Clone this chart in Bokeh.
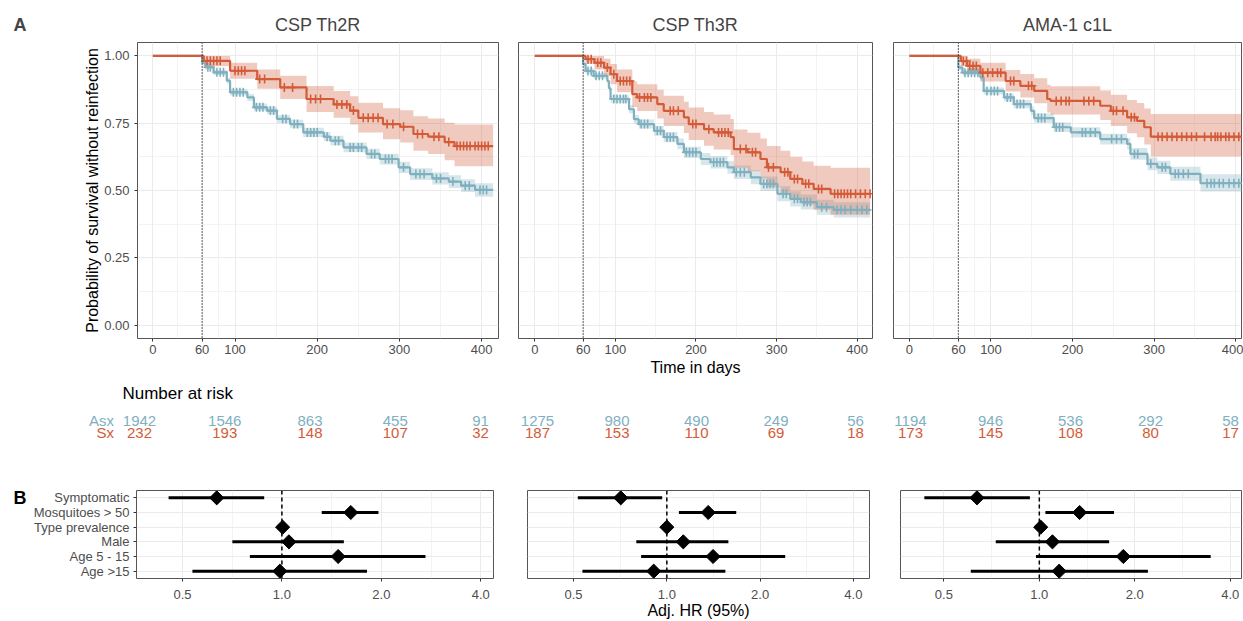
import numpy as np
from bokeh.plotting import figure
from bokeh.models import (Range1d, FactorRange, FixedTicker, PrintfTickFormatter, Span)
from bokeh.layouts import row, column
from bokeh.embed import file_html
from bokeh.resources import INLINE
from bokeh.core.properties import value

FONT = "Liberation Sans"
RED = "#D45B38"
BLUE = "#7FB0BF"
GRID = "#EBEBEB"
TICKCOL = "#4D4D4D"

panel_titles = ["CSP Th2R", "CSP Th3R", "AMA-1 c1L"]
panel_letters = ["A", "B"]
landmark_day = 60
x_ticks = [0, 60, 100, 200, 300, 400]
x_minor = [30, 80, 150, 250, 350]
y_ticks = [0.0, 0.25, 0.5, 0.75, 1.0]
y_minor = [0.125, 0.375, 0.625, 0.875]

# ---- Kaplan-Meier step data (time, survival, lower CI, upper CI), censor times
# Panel 1 : CSP Th2R
p1_sx_t = [0, 62, 94, 127, 155, 187, 220, 240, 250, 280, 301, 317, 335, 355, 367]
p1_sx_s = [1.0, 0.982, 0.945, 0.914, 0.883, 0.84, 0.82, 0.797, 0.77, 0.747, 0.737, 0.71, 0.70, 0.68, 0.665]
p1_sx_lo = [1.0, 0.962, 0.915, 0.878, 0.840, 0.792, 0.770, 0.745, 0.716, 0.690, 0.678, 0.648, 0.636, 0.612, 0.590]
p1_sx_hi = [1.0, 1.0, 0.975, 0.950, 0.926, 0.888, 0.870, 0.850, 0.826, 0.806, 0.798, 0.776, 0.768, 0.752, 0.745]
p1_sx_cens = [66, 70, 74, 78, 82, 100, 104, 108, 112, 130, 136, 160, 170, 192, 198, 204, 224, 230, 236,
              244, 256, 262, 268, 274, 285, 292, 305, 322, 328, 342, 348, 360, 370, 374, 378, 382, 386,
              392, 396, 400, 404, 408]
p1_asx_t = [0, 60, 64, 74, 90, 94, 115, 123, 139, 151, 167, 183, 208, 216, 232, 260, 276, 299, 313, 340, 360, 375, 392]
p1_asx_s = [1.0, 0.975, 0.958, 0.939, 0.908, 0.865, 0.846, 0.809, 0.797, 0.766, 0.747, 0.716, 0.70, 0.685, 0.66,
            0.636, 0.617, 0.586, 0.561, 0.545, 0.533, 0.518, 0.502]
p1_asx_lo = [1.0, 0.968, 0.949, 0.929, 0.897, 0.853, 0.833, 0.795, 0.783, 0.751, 0.731, 0.699, 0.683, 0.667,
             0.642, 0.617, 0.597, 0.565, 0.539, 0.522, 0.509, 0.494, 0.477]
p1_asx_hi = [1.0, 0.982, 0.967, 0.949, 0.919, 0.877, 0.859, 0.823, 0.811, 0.781, 0.763, 0.733, 0.717, 0.703,
             0.678, 0.655, 0.637, 0.607, 0.583, 0.568, 0.557, 0.542, 0.527]
p1_asx_cens = [67, 70, 78, 82, 86, 98, 102, 106, 110, 126, 130, 134, 143, 147, 158, 162, 172, 176, 188, 192,
               196, 200, 212, 222, 226, 240, 244, 250, 254, 266, 270, 283, 287, 291, 305, 320, 325, 330, 345,
               350, 365, 380, 385, 398, 402, 406]
# Panel 2 : CSP Th3R
p2_sx_t = [0, 63, 74, 86, 94, 102, 121, 127, 152, 160, 185, 191, 210, 222, 243, 247, 264, 280, 288, 305, 317, 332, 346, 367]
p2_sx_s = [1.0, 0.988, 0.975, 0.957, 0.932, 0.907, 0.858, 0.846, 0.821, 0.796, 0.772, 0.747, 0.728, 0.716,
           0.698, 0.654, 0.642, 0.617, 0.586, 0.568, 0.543, 0.525, 0.506, 0.488]
p2_sx_lo = [1.0, 0.970, 0.950, 0.925, 0.895, 0.865, 0.810, 0.795, 0.768, 0.740, 0.714, 0.688, 0.666, 0.652,
            0.632, 0.585, 0.572, 0.545, 0.512, 0.492, 0.466, 0.447, 0.428, 0.41]
p2_sx_hi = [1.0, 1.0, 1.0, 0.99, 0.97, 0.950, 0.905, 0.895, 0.874, 0.852, 0.830, 0.808, 0.792, 0.782,
            0.766, 0.727, 0.715, 0.693, 0.665, 0.648, 0.625, 0.608, 0.592, 0.585]
p2_sx_cens = [66, 70, 78, 82, 90, 98, 106, 110, 114, 118, 130, 136, 140, 144, 168, 172, 178, 196, 200, 216,
              228, 232, 236, 240, 255, 262, 270, 274, 290, 296, 310, 314, 322, 326, 336, 340, 352, 356, 372,
              376, 380, 384, 388, 392, 398, 404, 410, 416]
p2_asx_t = [0, 60, 63, 73, 90, 92, 94, 117, 123, 129, 148, 160, 177, 185, 206, 218, 239, 247, 268, 280, 301, 317, 330, 350, 371]
p2_asx_s = [1.0, 0.97, 0.944, 0.926, 0.907, 0.88, 0.84, 0.802, 0.765, 0.747, 0.722, 0.698, 0.673, 0.642,
            0.617, 0.605, 0.586, 0.568, 0.549, 0.525, 0.488, 0.469, 0.457, 0.438, 0.428]
p2_asx_lo = [1.0, 0.962, 0.934, 0.915, 0.895, 0.867, 0.826, 0.787, 0.749, 0.730, 0.704, 0.679, 0.653, 0.621,
             0.595, 0.582, 0.562, 0.543, 0.523, 0.498, 0.460, 0.441, 0.429, 0.410, 0.400]
p2_asx_hi = [1.0, 0.978, 0.954, 0.937, 0.919, 0.893, 0.854, 0.817, 0.781, 0.764, 0.740, 0.717, 0.693, 0.663,
             0.639, 0.628, 0.610, 0.593, 0.575, 0.552, 0.516, 0.497, 0.485, 0.466, 0.456]
p2_asx_cens = [66, 70, 76, 80, 84, 98, 102, 106, 110, 113, 132, 136, 140, 152, 156, 164, 168, 172, 188, 192,
               196, 200, 222, 226, 230, 234, 250, 255, 260, 284, 288, 292, 296, 308, 312, 322, 326, 334, 338,
               342, 356, 362, 375, 380, 385, 392, 400, 406, 412]
# Panel 3 : AMA-1 c1L
p3_sx_t = [0, 63, 71, 87, 118, 136, 153, 169, 173, 234, 247, 267, 279, 288, 296]
p3_sx_s = [1.0, 0.981, 0.963, 0.938, 0.907, 0.889, 0.870, 0.840, 0.833, 0.815, 0.796, 0.772, 0.759, 0.735, 0.700]
p3_sx_lo = [1.0, 0.962, 0.938, 0.905, 0.868, 0.846, 0.824, 0.790, 0.782, 0.762, 0.740, 0.713, 0.698, 0.671, 0.626]
p3_sx_hi = [1.0, 1.0, 0.99, 0.975, 0.948, 0.933, 0.917, 0.893, 0.887, 0.872, 0.856, 0.836, 0.825, 0.805, 0.784]
p3_sx_cens = [66, 70, 74, 78, 82, 90, 96, 102, 108, 112, 124, 128, 146, 150, 180, 186, 192, 196, 214, 220,
              226, 250, 254, 262, 272, 276, 305, 310, 316, 322, 328, 334, 340, 346, 352, 362, 370, 375, 378,
              382, 388, 392, 398, 404]
p3_asx_t = [0, 60, 65, 87, 91, 116, 128, 149, 153, 177, 198, 234, 267, 271, 292, 304, 320, 357]
p3_asx_s = [1.0, 0.957, 0.938, 0.920, 0.870, 0.846, 0.821, 0.796, 0.769, 0.735, 0.716, 0.691, 0.673, 0.636,
            0.599, 0.586, 0.562, 0.527]
p3_asx_lo = [1.0, 0.947, 0.927, 0.908, 0.857, 0.832, 0.806, 0.780, 0.752, 0.717, 0.697, 0.671, 0.652, 0.614,
             0.575, 0.561, 0.536, 0.496]
p3_asx_hi = [1.0, 0.967, 0.949, 0.932, 0.883, 0.860, 0.836, 0.812, 0.786, 0.753, 0.735, 0.711, 0.694, 0.658,
             0.623, 0.611, 0.588, 0.560]
p3_asx_cens = [68, 72, 76, 80, 84, 95, 100, 104, 108, 120, 124, 132, 136, 140, 158, 162, 166, 180, 184, 188,
               212, 216, 222, 228, 248, 254, 260, 276, 280, 296, 310, 314, 326, 330, 336, 342, 365, 370, 374,
               380, 385, 392, 398, 404, 410]
follow_end = [414, 416, 414]

# ---- Number at risk
risk_times = [0, 100, 200, 300, 400]
risk_asx = [[1942, 1546, 863, 455, 91], [1275, 980, 490, 249, 56], [1194, 946, 536, 292, 58]]
risk_sx = [[232, 193, 148, 107, 32], [187, 153, 110, 69, 18], [173, 145, 108, 80, 17]]

# ---- Forest plot (adjusted hazard ratios)
factors = ["Symptomatic", "Mosquitoes > 50", "Type prevalence", "Male", "Age 5 - 15", "Age >15"]
hr = [[0.635, 1.616, 1.005, 1.05, 1.48, 0.986],
      [0.71, 1.36, 1.0, 1.13, 1.41, 0.907],
      [0.636, 1.34, 1.01, 1.10, 1.84, 1.155]]
hr_lo = [[0.454, 1.32, 0.985, 0.708, 0.80, 0.536],
         [0.516, 1.094, 0.98, 0.797, 0.826, 0.534],
         [0.434, 1.045, 0.99, 0.729, 0.976, 0.608]]
hr_hi = [[0.884, 1.96, 1.025, 1.54, 2.72, 1.81],
         [0.966, 1.675, 1.02, 1.58, 2.41, 1.545],
         [0.934, 1.72, 1.03, 1.66, 3.47, 2.20]]
hr_ticks = [0.5, 1.0, 2.0, 4.0]

curves = [
    [(p1_asx_t, p1_asx_s, p1_asx_lo, p1_asx_hi, p1_asx_cens, BLUE),
     (p1_sx_t, p1_sx_s, p1_sx_lo, p1_sx_hi, p1_sx_cens, RED)],
    [(p2_asx_t, p2_asx_s, p2_asx_lo, p2_asx_hi, p2_asx_cens, BLUE),
     (p2_sx_t, p2_sx_s, p2_sx_lo, p2_sx_hi, p2_sx_cens, RED)],
    [(p3_asx_t, p3_asx_s, p3_asx_lo, p3_asx_hi, p3_asx_cens, BLUE),
     (p3_sx_t, p3_sx_s, p3_sx_lo, p3_sx_hi, p3_sx_cens, RED)],
]

STRIP = 30
KM_H, RISK_H, FOREST_H = 380, 86, 155
widths = [508 - STRIP, 374, 361]
risk_widths = [508, 374, 361]
km_borders = [(137 - STRIP, 10), (10, 10), (11, 2)]
km_xr = [(-18.6, 420.5), (-20.2, 419.0), (-19.6, 407.3)]
risk_xr = [(-163.05, 432.85), (-36.5, 433.9), (-35.0, 416.25)]
forest_borders = [(135 - STRIP, 15), (19, 13), (18, 2)]
forest_xr = [(0.363, 4.37), (0.355, 4.51), (0.365, 4.34)]
FOREST_TOP = 24


def style_axes(p):
    for ax in p.axis:
        ax.axis_line_color = None
        ax.major_tick_line_color = "#333333"
        ax.major_tick_out = 3
        ax.major_tick_in = 0
        ax.minor_tick_out = 0
        ax.minor_tick_in = 0
        ax.major_label_text_font = FONT
        ax.major_label_text_color = TICKCOL
        ax.axis_label_text_font = FONT
        ax.axis_label_text_font_style = "normal"
        ax.axis_label_text_color = "black"
    p.outline_line_color = "#555555"
    p.outline_line_width = 1


def blank_strip(height, top, bottom):
    s = figure(width=STRIP, height=height, x_range=Range1d(0, 1), y_range=Range1d(0, 1),
               output_backend="svg", toolbar_location=None, min_border_left=0, min_border_right=0,
               min_border_top=top, min_border_bottom=bottom,
               x_axis_location=None, y_axis_location=None)
    s.outline_line_color = None
    s.grid.visible = False
    return s


# strip holding the bold panel letter "A" (as a title, level with the panel titles)
strip_a = blank_strip(KM_H, 42, 42)
strip_a.title.text = panel_letters[0]
strip_a.title.align = "left"
strip_a.title.offset = 13
strip_a.title.text_font = FONT
strip_a.title.text_font_size = "18px"
strip_a.title.text_font_style = "bold"
strip_a.title.standoff = 15

km_figs = [strip_a]
for i in range(3):
    bl, br = km_borders[i]
    p = figure(width=widths[i], height=KM_H, x_range=Range1d(*km_xr[i]), y_range=Range1d(-0.05, 1.05),
               output_backend="svg", toolbar_location=None, min_border_left=bl, min_border_right=br,
               min_border_top=42, min_border_bottom=42, title=panel_titles[i])
    p.title.align = "center"
    p.title.text_font = FONT
    p.title.text_font_size = "18px"
    p.title.text_font_style = "normal"
    p.title.standoff = 15
    p.xaxis.ticker = FixedTicker(ticks=x_ticks, minor_ticks=x_minor)
    p.yaxis.ticker = FixedTicker(ticks=y_ticks, minor_ticks=y_minor)
    p.yaxis.formatter = PrintfTickFormatter(format="%.2f")
    style_axes(p)
    p.xaxis.major_label_text_font_size = "13px"
    p.yaxis.major_label_text_font_size = "13px"
    p.xaxis.major_label_standoff = 3
    p.xaxis.axis_label = "Time in days" if i == 1 else " "
    p.xaxis.axis_label_text_font_size = "16px"
    p.xaxis.axis_label_standoff = 2
    if i == 0:
        p.yaxis.axis_label = "Probability of survival without reinfection"
        p.yaxis.axis_label_text_font_size = "16px"
        p.yaxis.axis_label_standoff = 0
        p.yaxis.major_label_standoff = 5
    else:
        p.yaxis.visible = False
    p.grid.grid_line_color = GRID
    p.grid.grid_line_width = 1
    p.grid.minor_grid_line_color = GRID
    p.grid.minor_grid_line_width = 0.6

    for (t, s, lo, hi, cens, col) in curves[i]:
        t_ext = list(t) + [follow_end[i]]
        lo_ext = list(lo) + [lo[-1]]
        hi_ext = list(hi) + [hi[-1]]
        p.varea_step(x=t_ext, y1=lo_ext, y2=hi_ext, step_mode="after", fill_color=col, fill_alpha=0.32)
    for (t, s, lo, hi, cens, col) in curves[i]:
        t_ext = list(t) + [follow_end[i]]
        s_ext = list(s) + [s[-1]]
        p.step(x=t_ext, y=s_ext, mode="after", line_color=col, line_width=2.2)
        idx = np.searchsorted(np.array(t), np.array(cens), side="right") - 1
        cy = np.array(s)[idx]
        p.scatter(x=cens, y=cy, marker="cross", size=9, line_color=col, line_width=1.6)
    p.add_layout(Span(location=landmark_day, dimension="height", line_color="black",
                      line_dash="1 2", line_width=1.2))
    km_figs.append(p)

risk_figs = []
risk_y0 = -(RISK_H - 52) / 12
for i in range(3):
    p = figure(width=risk_widths[i], height=RISK_H, x_range=Range1d(*risk_xr[i]),
               y_range=Range1d(risk_y0, risk_y0 + RISK_H / 12),
               output_backend="svg", toolbar_location=None, min_border=0,
               x_axis_location=None, y_axis_location=None)
    p.outline_line_color = None
    p.grid.visible = False
    p.text(x=risk_times, y=[1] * 5, text=[str(v) for v in risk_asx[i]], text_color=BLUE,
           text_font=value(FONT), text_font_size="15px", text_align="center", text_baseline="middle")
    p.text(x=risk_times, y=[0] * 5, text=[str(v) for v in risk_sx[i]], text_color=RED,
           text_font=value(FONT), text_font_size="15px", text_align="center", text_baseline="middle")
    if i == 0:
        p.text(x=[-30, -30], y=[1, 0], text=["Asx", "Sx"], text_color=[BLUE, RED],
               text_font=value(FONT), text_font_size="15px", text_align="right", text_baseline="middle")
        p.text(x=[-20], y=[3.25], text=["Number at risk"], text_color="black",
               text_font=value(FONT), text_font_size="17px", text_align="left", text_baseline="middle")
    risk_figs.append(p)

# strip holding the bold panel letter "B" (its frame lines up with the forest frames)
strip_b = blank_strip(FOREST_H, FOREST_TOP, 38)
strip_b.text(x=[0.43], y=[0.91], text=[panel_letters[1]], text_font=value(FONT),
             text_font_style="bold", text_font_size="18px", text_baseline="middle",
             text_align="left", text_color="black")

forest_figs = [strip_b]
for i in range(3):
    bl, br = forest_borders[i]
    p = figure(width=widths[i], height=FOREST_H, x_axis_type="log", x_range=Range1d(*forest_xr[i]),
               y_range=FactorRange(factors=factors[::-1]), output_backend="svg", toolbar_location=None,
               min_border_left=bl, min_border_right=br, min_border_top=FOREST_TOP, min_border_bottom=38)
    p.xaxis.ticker = FixedTicker(ticks=hr_ticks, minor_ticks=[0.3536, 0.7071, 1.4142, 2.8284])
    p.xaxis.formatter = PrintfTickFormatter(format="%.1f")
    style_axes(p)
    p.xaxis.major_label_text_font_size = "13px"
    p.yaxis.major_label_text_font_size = "13px"
    p.xaxis.major_label_standoff = 8
    p.xaxis.axis_label = "Adj. HR (95%)" if i == 1 else " "
    p.xaxis.axis_label_text_font_size = "16px"
    p.xaxis.axis_label_standoff = 0
    if i != 0:
        p.yaxis.visible = False
    else:
        p.yaxis.major_label_standoff = 4
    p.grid.grid_line_color = GRID
    p.xgrid.minor_grid_line_color = GRID
    p.xgrid.minor_grid_line_width = 0.6
    p.add_layout(Span(location=1.0, dimension="height", line_color="black", line_dash="4 3",
                      line_width=1.5))
    p.segment(x0=hr_lo[i], y0=factors, x1=hr_hi[i], y1=factors, line_color="black", line_width=3)
    p.scatter(x=hr[i], y=factors, marker="square", angle=np.pi / 4, size=10,
              fill_color="black", line_color="black")
    forest_figs.append(p)

layout = column(row(*km_figs), row(*risk_figs), row(*forest_figs))
open("out.html", "w").write(file_html(layout, INLINE))
